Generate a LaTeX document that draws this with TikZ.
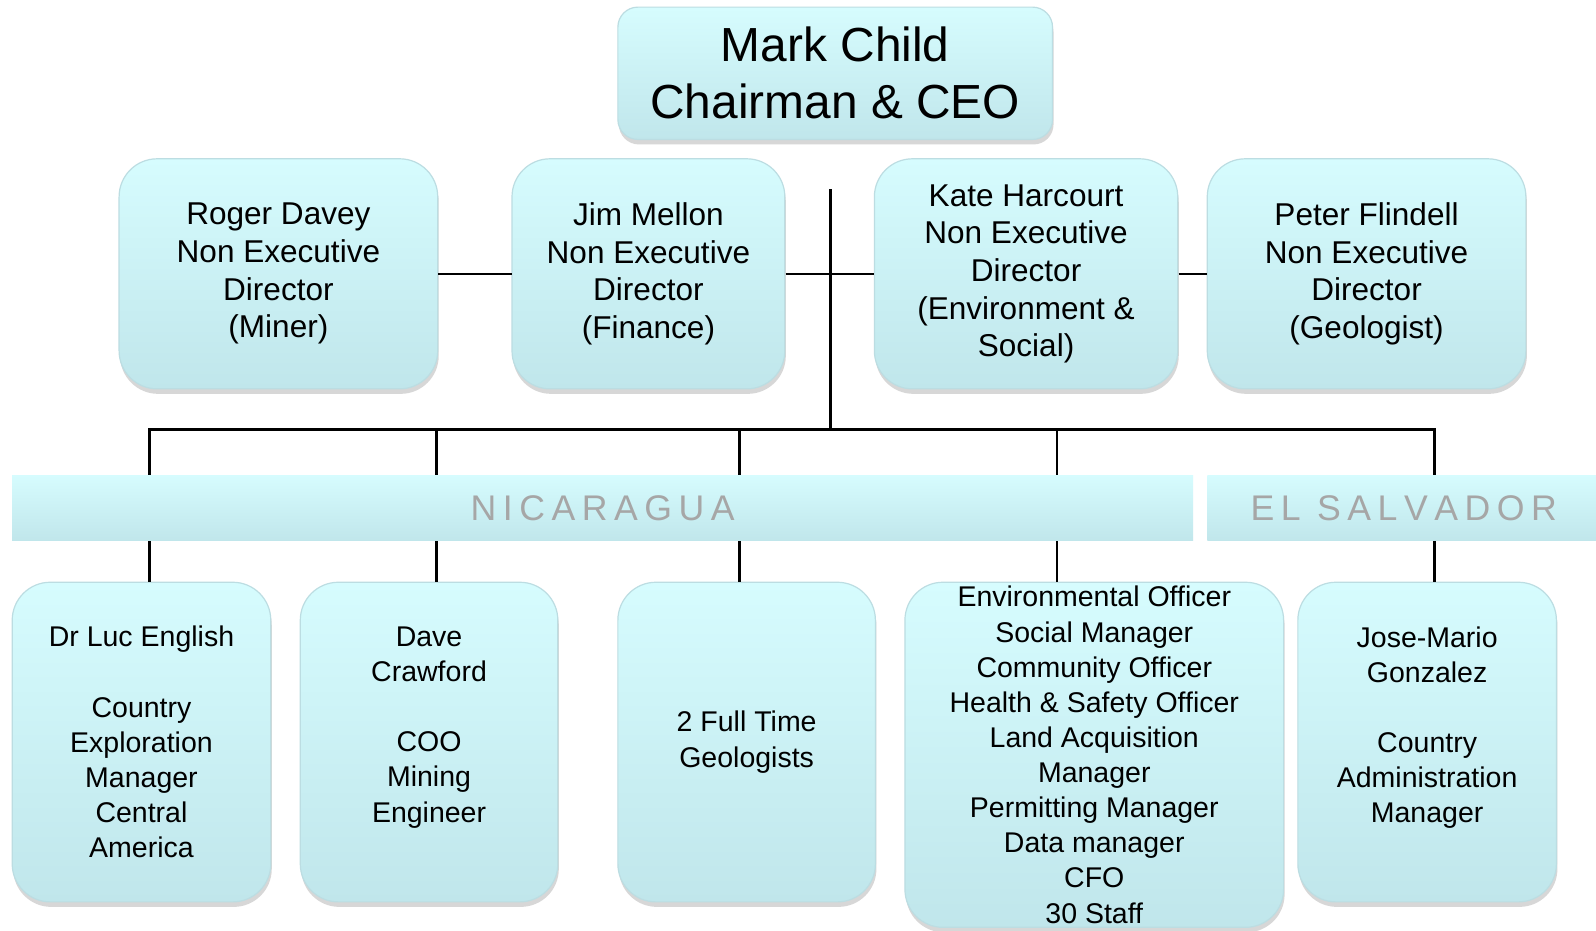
\documentclass[tikz,border=0pt]{standalone}
\usepackage{fontspec}
\setmainfont{Liberation Sans}
\usetikzlibrary{shadows}
\definecolor{boxtop}{HTML}{D6FCFE}
\definecolor{boxbot}{HTML}{C0E6EB}
\definecolor{boxline}{HTML}{BCDDE2}
\definecolor{bandtext}{HTML}{A6A6A6}
\newcommand\lsp{\kern6.4pt}
\begin{document}
\begin{tikzpicture}[x=1pt,y=-1pt,scale=1.0179,every node/.append style={transform shape},
  orgbox/.style={draw=boxline, line width=1.2pt, top color=boxtop, bottom color=boxbot,
    rounded corners=38pt, align=center, inner sep=0pt,
    drop shadow={shadow xshift=1pt, shadow yshift=-5pt, opacity=0.22, fill=black!70}},
  topfont/.style={font=\fontsize{31}{37}\selectfont},
  botfont/.style={font=\fontsize{28}{34.5}\selectfont},
  conn/.style={draw=black, line width=2.7pt},
  band/.style={top color=boxtop, bottom color=boxbot, draw=none, inner sep=0pt},
  bandlabel/.style={text=bandtext, font=\fontsize{35}{40}\selectfont, inner sep=0pt}]
\useasboundingbox (0,0) rectangle (1567.9,914.6);
\fill[white] (0,0) rectangle (1567.9,914.6);

% top
\node[orgbox, rounded corners=20pt, minimum width=427pt, minimum height=130pt,
  font=\fontsize{47}{56}\selectfont] (ceo) at (820.5,72) {Mark Child\\Chairman \& CEO};

% directors
\node[orgbox, topfont, minimum width=313pt, minimum height=226pt] (roger) at (273.5,269)
  {Roger Davey\\Non Executive\\Director\\(Miner)};
\node[orgbox, topfont, minimum width=268pt, minimum height=226pt] (jim) at (637,269)
  {Jim Mellon\\Non Executive\\Director\\(Finance)};
\node[orgbox, topfont, minimum width=298pt, minimum height=226pt] (kate) at (1008,269)
  {Kate Harcourt\\Non Executive\\Director\\(Environment \&\\Social)};
\node[orgbox, topfont, minimum width=313pt, minimum height=226pt] (peter) at (1342.5,269)
  {Peter Flindell\\Non Executive\\Director\\(Geologist)};

% bottom boxes
\node[orgbox, botfont, minimum width=254pt, minimum height=314pt] (luc) at (139,729)
  {Dr Luc English\\\mbox{}\\Country\\Exploration\\Manager\\Central\\America};
\node[orgbox, botfont, minimum width=253pt, minimum height=314pt] (dave) at (421.5,729)
  {Dave\\Crawford\\\mbox{}\\COO\\Mining\\Engineer\\\mbox{}};
\node[orgbox, botfont, minimum width=253pt, minimum height=314pt] (geo) at (733.5,729)
  {2 Full Time\\Geologists};
\node[orgbox, botfont, minimum width=372pt, minimum height=339pt] (env) at (1075,741.5)
  {Environmental Officer\\Social Manager\\Community Officer\\Health \& Safety Officer\\Land Acquisition\\Manager\\Permitting Manager\\Data manager\\CFO\\30 Staff};
\node[orgbox, botfont, minimum width=254pt, minimum height=314pt] (jose) at (1402,729)
  {Jose-Mario\\Gonzalez\\\mbox{}\\Country\\Administration\\Manager\\\mbox{}};

% connectors
\coordinate (vtop) at (816,186);
\coordinate (hub) at (816,422);
\coordinate (d1) at (147,422);
\coordinate (d2) at (429,422);
\coordinate (d3) at (726,422);
\coordinate (d4) at (1038,422);
\coordinate (d5) at (1409,422);
\draw[conn] (roger.east) -- (jim.west);
\draw[conn] (jim.east) -- (kate.west);
\draw[conn] (kate.east) -- (peter.west);
\draw[conn] (vtop) -- (hub);
\draw[conn, line cap=rect] (d1) -- (d5);
\draw[conn] (d1) -- (d1 |- luc.north);
\draw[conn] (d2) -- (d2 |- dave.north);
\draw[conn] (d3) -- (d3 |- geo.north);
\draw[conn] (d4) -- (d4 |- env.north);
\draw[conn] (d5) -- (d5 |- jose.north);

% bands
\node[band, minimum width=1160pt, minimum height=64pt] (nic) at (592,499) {};
\node[bandlabel] (nictext) at (592,499) {N\lsp I\lsp C\lsp A\lsp R\lsp A\lsp G\lsp U\lsp A};
\node[band, minimum width=382pt, minimum height=64pt] (els) at (1377,499) {};
\node[bandlabel] (elstext) at (1379,499) {E\lsp L\lsp\ S\lsp A\lsp L\lsp V\lsp A\lsp D\lsp O\lsp R};
\end{tikzpicture}
\end{document}
